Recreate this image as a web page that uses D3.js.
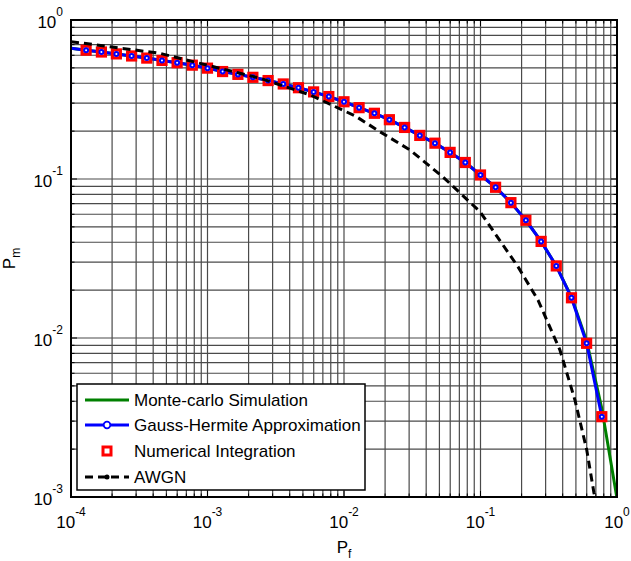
<!DOCTYPE html>
<html>
<head>
<meta charset="utf-8">
<script src="https://cdn.jsdelivr.net/npm/d3@7"></script>
<style>
    body { margin: 0; background: #fff; }
    text { font-family: Arial, "Liberation Sans", sans-serif; }
</style>
</head>
<body>
<div id="chart"></div>
<script>
// data
const pf = [
    1.00e-4, 1.29e-4, 1.67e-4, 2.15e-4, 2.78e-4, 3.59e-4, 4.64e-4, 5.99e-4, 7.74e-4,
    1.00e-3, 1.29e-3, 1.67e-3, 2.15e-3, 2.78e-3, 3.59e-3, 4.64e-3, 5.99e-3, 7.74e-3,
    1.00e-2, 1.29e-2, 1.67e-2, 2.15e-2, 2.78e-2, 3.59e-2, 4.64e-2, 5.99e-2, 7.74e-2,
    0.100, 0.129, 0.167, 0.215, 0.278, 0.359, 0.464, 0.599, 0.774, 1.00
];

// Gauss-Hermite approximation (pf[0..35])
const ghPm = [
    0.664, 0.646, 0.629, 0.612, 0.594, 0.576, 0.557, 0.539, 0.520,
    0.498, 0.474, 0.455, 0.436, 0.416, 0.396, 0.375, 0.353, 0.330,
    0.306, 0.281, 0.259, 0.236, 0.211, 0.188, 0.168, 0.147, 0.127,
    0.106, 0.0887, 0.0710, 0.0550, 0.0405, 0.0284, 0.0179, 0.00926, 0.00320
];

// Monte-carlo simulation (pf[0..36])
const mcPm = [
    0.664, 0.646, 0.629, 0.612, 0.594, 0.576, 0.557, 0.539, 0.520,
    0.498, 0.474, 0.455, 0.436, 0.416, 0.396, 0.375, 0.353, 0.330,
    0.306, 0.281, 0.259, 0.236, 0.211, 0.188, 0.168, 0.147, 0.127,
    0.106, 0.0887, 0.0710, 0.0550, 0.0405, 0.0284, 0.0181, 0.0096, 0.0036, 0.00098
];

// Numerical integration markers (pf[1..35])
const niPf = pf.slice(1, 36);
const niPm = [
    0.646, 0.629, 0.612, 0.594, 0.576, 0.557, 0.539, 0.520,
    0.498, 0.474, 0.455, 0.436, 0.416, 0.396, 0.375, 0.353, 0.330,
    0.306, 0.281, 0.259, 0.236, 0.211, 0.188, 0.168, 0.147, 0.127,
    0.106, 0.0887, 0.0710, 0.0550, 0.0405, 0.0284, 0.0179, 0.00926, 0.00320
];

// AWGN reference curve
const awgnPf = [1.00e-4, 1.93e-4, 4.49e-4, 9.86e-4, 2.43e-3, 5.64e-3, 1.21e-2, 1.84e-2,
    3.05e-2, 5.31e-2, 9.91e-2, 0.188, 0.264, 0.382, 0.492, 0.600, 0.678, 0.697];
const awgnPm = [0.731, 0.679, 0.617, 0.521, 0.430, 0.338, 0.249, 0.198,
    0.152, 0.103, 0.0623, 0.0281, 0.0173, 0.0084, 0.00407, 0.00198, 0.00106, 0.00095];

const xTickExp = [-4, -3, -2, -1, 0];
const yTickExp = [-3, -2, -1, 0];

const legendLabels = ["Monte-carlo Simulation", "Gauss-Hermite Approximation",
    "Numerical Integration", "AWGN"];

const W = 631, H = 561;
const margin = { top: 20, right: 14, bottom: 64, left: 71 };
const width = W - margin.left - margin.right;
const height = H - margin.top - margin.bottom;

const svg = d3.select("#chart").append("svg")
    .attr("width", W)
    .attr("height", H);

const g = svg.append("g")
    .attr("transform", `translate(${margin.left},${margin.top})`);

const x = d3.scaleLog().domain([1e-4, 1]).range([0, width]);
const y = d3.scaleLog().domain([1e-3, 1]).range([height, 0]);

g.append("defs").append("clipPath")
    .attr("id", "clip")
    .append("rect")
    .attr("width", width)
    .attr("height", height);

// grid values 1..9 x each decade
function gridVals(lo, hi) {
    const out = [];
    for (let e = lo; e < hi; e++) {
        for (let m = 1; m <= 9; m++) out.push(m * Math.pow(10, e));
    }
    out.push(Math.pow(10, hi));
    return out;
}
const xGrid = gridVals(-4, 0);
const yGrid = gridVals(-3, 0);

const grid = g.append("g").attr("stroke", "#4a4a4a").attr("stroke-width", 1.2);
grid.selectAll("line.vx")
    .data(xGrid.slice(1, -1))
    .join("line")
    .attr("x1", d => x(d)).attr("x2", d => x(d))
    .attr("y1", 0).attr("y2", height);
grid.selectAll("line.hy")
    .data(yGrid.slice(1, -1))
    .join("line")
    .attr("y1", d => y(d)).attr("y2", d => y(d))
    .attr("x1", 0).attr("x2", width);

// tick marks (inside, all four sides)
const ticks = g.append("g").attr("stroke", "#000").attr("stroke-width", 1);
xGrid.forEach(v => {
    const major = Math.abs(Math.log10(v) % 1) < 1e-9;
    const len = major ? 6 : 3.5;
    ticks.append("line").attr("x1", x(v)).attr("x2", x(v)).attr("y1", height).attr("y2", height - len);
    ticks.append("line").attr("x1", x(v)).attr("x2", x(v)).attr("y1", 0).attr("y2", len);
});
yGrid.forEach(v => {
    const major = Math.abs(Math.log10(v) % 1) < 1e-9;
    const len = major ? 6 : 3.5;
    ticks.append("line").attr("y1", y(v)).attr("y2", y(v)).attr("x1", 0).attr("x2", len);
    ticks.append("line").attr("y1", y(v)).attr("y2", y(v)).attr("x1", width).attr("x2", width - len);
});

// curves
const line = d3.line()
    .x(d => x(d[0]))
    .y(d => y(d[1]));

const plot = g.append("g").attr("clip-path", "url(#clip)");

plot.append("path")
    .datum(pf.map((p, i) => [p, mcPm[i]]))
    .attr("fill", "none")
    .attr("stroke", "#008000")
    .attr("stroke-width", 3)
    .attr("d", line);

plot.append("path")
    .datum(ghPm.map((v, i) => [pf[i], v]))
    .attr("fill", "none")
    .attr("stroke", "#0000ff")
    .attr("stroke-width", 3)
    .attr("d", line);

plot.selectAll("rect.ni")
    .data(niPf.map((p, i) => [p, niPm[i]]))
    .join("rect")
    .attr("x", d => x(d[0]) - 4)
    .attr("y", d => y(d[1]) - 4)
    .attr("width", 8)
    .attr("height", 8)
    .attr("fill", "#fff")
    .attr("stroke", "#ff0000")
    .attr("stroke-width", 3.2);

plot.selectAll("circle.gh")
    .data(ghPm.slice(1).map((v, i) => [pf[i + 1], v]))
    .join("circle")
    .attr("cx", d => x(d[0]))
    .attr("cy", d => y(d[1]))
    .attr("r", 2)
    .attr("fill", "#fff")
    .attr("stroke", "#0000ff")
    .attr("stroke-width", 2);

plot.append("path")
    .datum(awgnPf.map((p, i) => [p, awgnPm[i]]))
    .attr("fill", "none")
    .attr("stroke", "#000")
    .attr("stroke-width", 3)
    .attr("stroke-dasharray", "8,5")
    .attr("d", line);

// axes box
g.append("rect")
    .attr("width", width)
    .attr("height", height)
    .attr("fill", "none")
    .attr("stroke", "#000")
    .attr("stroke-width", 2);

// tick labels
function powLabel(sel, e) {
    sel.append("tspan").text("10");
    sel.append("tspan").attr("dy", -12).attr("font-size", 12).text(e);
}
xTickExp.forEach(e => {
    g.append("text")
        .attr("x", x(Math.pow(10, e)))
        .attr("y", height + 31)
        .attr("text-anchor", "middle")
        .attr("font-size", 17)
        .call(powLabel, e);
});
yTickExp.forEach(e => {
    g.append("text")
        .attr("x", -8)
        .attr("y", y(Math.pow(10, e)) + 8)
        .attr("text-anchor", "end")
        .attr("font-size", 17)
        .call(powLabel, e);
});

// axis labels
const xl = g.append("text")
    .attr("x", width / 2)
    .attr("y", height + 56)
    .attr("text-anchor", "middle")
    .attr("font-size", 17);
xl.append("tspan").text("P");
xl.append("tspan").attr("dy", 5).attr("font-size", 12).text("f");

const yl = svg.append("text")
    .attr("transform", `translate(15,${margin.top + height / 2}) rotate(-90)`)
    .attr("text-anchor", "middle")
    .attr("font-size", 17);
yl.append("tspan").text("P");
yl.append("tspan").attr("dy", 5).attr("font-size", 12).text("m");

// legend
const lg = svg.append("g").attr("transform", "translate(77,384)");
lg.append("rect")
    .attr("width", 288)
    .attr("height", 106)
    .attr("fill", "#fff")
    .attr("stroke", "#000")
    .attr("stroke-width", 1.5);

const rowY = [16, 41, 67, 93];
const items = lg.selectAll("g.item")
    .data(legendLabels)
    .join("g")
    .attr("transform", (d, i) => `translate(0,${rowY[i]})`);

items.append("text")
    .attr("x", 57)
    .attr("y", 6)
    .attr("font-size", 17)
    .text(d => d);

// sample glyphs
const s0 = d3.select(items.nodes()[0]);
s0.append("line").attr("x1", 8).attr("x2", 52).attr("stroke", "#008000").attr("stroke-width", 3);

const s1 = d3.select(items.nodes()[1]);
s1.append("line").attr("x1", 8).attr("x2", 52).attr("stroke", "#0000ff").attr("stroke-width", 3);
s1.append("circle").attr("cx", 30).attr("r", 3.3).attr("fill", "#fff")
    .attr("stroke", "#0000ff").attr("stroke-width", 1.8);

const s2 = d3.select(items.nodes()[2]);
s2.append("rect").attr("x", 26).attr("y", -4).attr("width", 8).attr("height", 8)
    .attr("fill", "#fff").attr("stroke", "#ff0000").attr("stroke-width", 3);

const s3 = d3.select(items.nodes()[3]);
s3.append("line").attr("x1", 8).attr("x2", 52).attr("stroke", "#000")
    .attr("stroke-width", 3).attr("stroke-dasharray", "8,5");
s3.append("circle").attr("cx", 30).attr("r", 2.5).attr("fill", "#000");
</script>
</body>
</html>
